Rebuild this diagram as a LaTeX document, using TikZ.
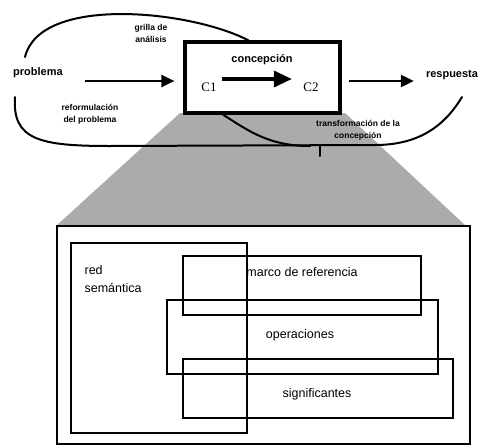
\documentclass[tikz,border=0pt]{standalone}
\usepackage{fontspec}
\setmainfont{Liberation Sans}
\newfontfamily\serifC{Liberation Serif}
\usetikzlibrary{arrows.meta,positioning,calc}
\tikzset{
    caja/.style={
        rectangle,
        draw,
        line width=1.3pt,
        inner sep=0pt
    },
    concepto/.style={caja, line width=3.2pt, fill=white,
        minimum width=155pt, minimum height=71pt},
    capa/.style={caja, line width=1.2pt},
    titulo/.style={font=\bfseries\fontsize{11}{13}\selectfont, inner sep=1pt},
    nota/.style={font=\bfseries\fontsize{8.5}{12}\selectfont, align=center, inner sep=0pt},
    texto/.style={font=\fontsize{12.5}{18}\selectfont, inner sep=0pt},
    cnodo/.style={font=\serifC\fontsize{13}{15}\selectfont},
    flecha/.style={-{Triangle[length=13pt, width=12pt]}, line width=2.2pt},
    flechaGrande/.style={-{Triangle[length=18pt, width=16pt]}, line width=3.5pt},
    lazo/.style={line width=2pt, line cap=round},
    sombra/.style={fill=black!33, draw=none}
}

\begin{document}
\begin{tikzpicture}[x=1pt, y=-1pt]
    \useasboundingbox (0,0) rectangle (486,447);

    % zona gris que amplia la concepcion
    \fill[sombra] (180,113) -- (345,113) -- (466,226) -- (56,226) -- cycle;

    \coordinate (ini) at (25,57);
    \coordinate (abajo) at (15,97);
    \coordinate (fin) at (462,97);
    \coordinate (cruce) at (320,146);
    \coordinate (marca) at (320,156);

    \node[concepto] (concep) at (262.5,77.5) {};
    \node[titulo] (conc) at (262,60) {concepción};
    \node[cnodo] (c1) at (209,87) {C1};
    \node[cnodo] (c2) at (311,87) {C2};

    \node[titulo] (problema) at (38,73) {problema};
    \node[titulo] (respuesta) at (452,75) {respuesta};

    \node[nota] (grilla) at (151,33) {grilla de\\análisis};
    \node[nota] (reform) at (90,114) {reformulación\\del problema};
    \node[nota] (transf) at (358,130) {transformación de la\\concepción};

    % flechas
    \draw[flechaGrande, shorten <=2pt, shorten >=8pt]
        ([yshift=8pt]c1.east) -- ([yshift=8pt]c2.west);
    \draw[flecha, shorten <=21pt, shorten >=9pt]
        ([yshift=-8pt]problema.east) -- ([yshift=-8pt]problema.east -| concep.west);
    \draw[flecha, shorten <=7pt, shorten >=11pt]
        ([yshift=-3.5pt]concep.east) -- ([yshift=-3.5pt]concep.east -| respuesta.west);

    % lazos
    \draw[lazo] (ini) .. controls (40,-5) and (190,10) .. ([xshift=-14pt]concep.north);
    \draw[lazo] (abajo) .. controls (12,140) and (40,146) .. (110,146)
        -- (375,145) .. controls (420,145) and (445,125) .. (fin);
    \draw[lazo] ([xshift=-39.5pt]concep.south) .. controls (250,132) and (270,146) .. (310,146);
    \draw[lazo] (cruce) -- (marca);

    % recuadro inferior
    \node[caja, fill=white, minimum width=413pt, minimum height=218pt] (zoom) at (263.5,335) {};
    \node[capa, minimum width=176pt, minimum height=190pt] (red) at (159,338) {};
    \node[texto, align=left, anchor=north west] (redtxt)
        at ([xshift=14pt, yshift=-23pt]red.north west) {red\\semántica};
    \node[capa, minimum width=238pt, minimum height=59pt] (marco) at (302,285.5) {};
    \node[texto] (marcotxt) at (302,272) {marco de referencia};
    \node[capa, minimum width=271pt, minimum height=74pt] (oper) at (302.5,337) {};
    \node[texto] (opertxt) at (300,335) {operaciones};
    \node[capa, minimum width=270pt, minimum height=59pt] (sign) at (318,388.5) {};
    \node[texto] (signtxt) at (317,394) {significantes};
\end{tikzpicture}
\end{document}
